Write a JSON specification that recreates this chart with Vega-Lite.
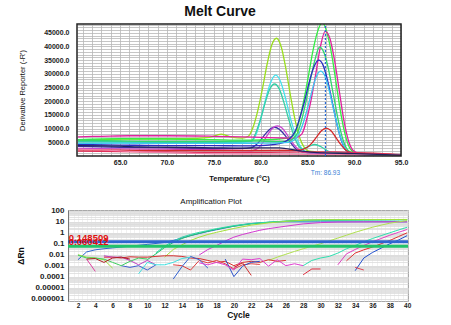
{
"$schema": "https://vega.github.io/schema/vega-lite/v6.json",
"padding": {"left": 16, "top": 4, "right": 0, "bottom": 0},
"background": "white",
"spacing": 15,
"align": "none",
"bounds": "full",
"resolve": {"scale": {"color": "independent"}},
"config": {"font": "Liberation Sans", "legend": {"disable": true}},
"vconcat": [
{
"title": {"text": "Melt Curve", "fontSize": 14, "fontWeight": "bold", "font": "Liberation Sans", "color": "#111", "offset": 2, "dx": -18},
"width": 340, "height": 132,
"view": {"stroke": null},
"data": {"values": [
{"s":"m1","x":60.5,"y":5500},{"s":"m1","x":63,"y":6000},{"s":"m1","x":66,"y":6200},{"s":"m1","x":69,"y":6300},{"s":"m1","x":72,"y":6300},{"s":"m1","x":74.5,"y":6800},{"s":"m1","x":75.8,"y":8000},{"s":"m1","x":77,"y":6800},{"s":"m1","x":78,"y":6500},{"s":"m1","x":78.7,"y":7200},{"s":"m1","x":79.2,"y":10500},{"s":"m1","x":79.7,"y":16500},{"s":"m1","x":80.2,"y":24500},{"s":"m1","x":80.7,"y":33500},{"s":"m1","x":81.2,"y":40500},{"s":"m1","x":81.7,"y":43000},{"s":"m1","x":82.2,"y":40000},{"s":"m1","x":82.7,"y":32000},{"s":"m1","x":83.2,"y":22000},{"s":"m1","x":83.7,"y":13000},{"s":"m1","x":84.2,"y":6500},{"s":"m1","x":84.7,"y":3000},{"s":"m1","x":85.2,"y":1800},{"s":"m1","x":86,"y":1500},{"s":"m1","x":88,"y":1200},{"s":"m1","x":90,"y":900},{"s":"m1","x":95,"y":300},
{"s":"m2","x":60.5,"y":4600},{"s":"m2","x":65,"y":4800},{"s":"m2","x":70,"y":4800},{"s":"m2","x":75,"y":4900},{"s":"m2","x":78,"y":5000},{"s":"m2","x":79,"y":5300},{"s":"m2","x":79.6,"y":8500},{"s":"m2","x":80.1,"y":14500},{"s":"m2","x":80.6,"y":21500},{"s":"m2","x":81.1,"y":27000},{"s":"m2","x":81.6,"y":29500},{"s":"m2","x":82.1,"y":27500},{"s":"m2","x":82.6,"y":22000},{"s":"m2","x":83.1,"y":15000},{"s":"m2","x":83.6,"y":9000},{"s":"m2","x":84.1,"y":4500},{"s":"m2","x":84.6,"y":2000},{"s":"m2","x":85.2,"y":1200},{"s":"m2","x":88,"y":1000},{"s":"m2","x":92,"y":600},{"s":"m2","x":95,"y":300},
{"s":"m3","x":60.5,"y":5300},{"s":"m3","x":65,"y":5200},{"s":"m3","x":70,"y":5000},{"s":"m3","x":75,"y":5100},{"s":"m3","x":78,"y":5200},{"s":"m3","x":79,"y":5500},{"s":"m3","x":79.5,"y":8500},{"s":"m3","x":80,"y":13500},{"s":"m3","x":80.5,"y":19500},{"s":"m3","x":81,"y":24500},{"s":"m3","x":81.5,"y":26300},{"s":"m3","x":82,"y":24500},{"s":"m3","x":82.5,"y":19500},{"s":"m3","x":83,"y":13500},{"s":"m3","x":83.5,"y":8000},{"s":"m3","x":84,"y":4000},{"s":"m3","x":84.5,"y":2600},{"s":"m3","x":85.2,"y":3600},{"s":"m3","x":85.8,"y":4200},{"s":"m3","x":86.5,"y":3300},{"s":"m3","x":87.2,"y":1800},{"s":"m3","x":88,"y":1000},{"s":"m3","x":92,"y":600},{"s":"m3","x":95,"y":300},
{"s":"m4","x":60.5,"y":3500},{"s":"m4","x":65,"y":3200},{"s":"m4","x":70,"y":3000},{"s":"m4","x":75,"y":2800},{"s":"m4","x":78,"y":2800},{"s":"m4","x":79,"y":3000},{"s":"m4","x":79.5,"y":4000},{"s":"m4","x":80,"y":5800},{"s":"m4","x":80.5,"y":8000},{"s":"m4","x":81,"y":9800},{"s":"m4","x":81.5,"y":10500},{"s":"m4","x":82,"y":9800},{"s":"m4","x":82.5,"y":8000},{"s":"m4","x":83,"y":5800},{"s":"m4","x":83.5,"y":3600},{"s":"m4","x":84,"y":2000},{"s":"m4","x":85,"y":1200},{"s":"m4","x":88,"y":800},{"s":"m4","x":92,"y":500},{"s":"m4","x":95,"y":200},
{"s":"m5","x":60.5,"y":2800},{"s":"m5","x":65,"y":2600},{"s":"m5","x":70,"y":2500},{"s":"m5","x":75,"y":2300},{"s":"m5","x":78,"y":2000},{"s":"m5","x":79,"y":1900},{"s":"m5","x":79.8,"y":3000},{"s":"m5","x":80.3,"y":5200},{"s":"m5","x":80.8,"y":8000},{"s":"m5","x":81.3,"y":10200},{"s":"m5","x":81.8,"y":11000},{"s":"m5","x":82.3,"y":10200},{"s":"m5","x":82.8,"y":8000},{"s":"m5","x":83.3,"y":5300},{"s":"m5","x":83.8,"y":3200},{"s":"m5","x":84.3,"y":1800},{"s":"m5","x":85,"y":1200},{"s":"m5","x":88,"y":800},{"s":"m5","x":92,"y":500},{"s":"m5","x":95,"y":200},
{"s":"m6","x":60.5,"y":6000},{"s":"m6","x":65,"y":6300},{"s":"m6","x":70,"y":6200},{"s":"m6","x":75,"y":6000},{"s":"m6","x":78,"y":5800},{"s":"m6","x":80,"y":5900},{"s":"m6","x":82,"y":6200},{"s":"m6","x":83,"y":6600},{"s":"m6","x":83.6,"y":8000},{"s":"m6","x":84.1,"y":12500},{"s":"m6","x":84.6,"y":20000},{"s":"m6","x":85.1,"y":29000},{"s":"m6","x":85.6,"y":38500},{"s":"m6","x":86.1,"y":45500},{"s":"m6","x":86.6,"y":48800},{"s":"m6","x":87.1,"y":45000},{"s":"m6","x":87.6,"y":37000},{"s":"m6","x":88.1,"y":26000},{"s":"m6","x":88.6,"y":15000},{"s":"m6","x":89.1,"y":7000},{"s":"m6","x":89.6,"y":2500},{"s":"m6","x":90.2,"y":1000},{"s":"m6","x":92,"y":700},{"s":"m6","x":95,"y":200},
{"s":"m7","x":60.5,"y":7000},{"s":"m7","x":63,"y":7200},{"s":"m7","x":66,"y":7400},{"s":"m7","x":70,"y":7400},{"s":"m7","x":75,"y":7200},{"s":"m7","x":78,"y":7000},{"s":"m7","x":80,"y":6800},{"s":"m7","x":82,"y":6600},{"s":"m7","x":83.5,"y":6500},{"s":"m7","x":84.4,"y":8000},{"s":"m7","x":84.9,"y":13000},{"s":"m7","x":85.4,"y":20500},{"s":"m7","x":85.9,"y":30000},{"s":"m7","x":86.4,"y":40000},{"s":"m7","x":86.9,"y":45500},{"s":"m7","x":87.4,"y":43000},{"s":"m7","x":87.9,"y":35000},{"s":"m7","x":88.4,"y":24000},{"s":"m7","x":88.9,"y":13000},{"s":"m7","x":89.4,"y":5500},{"s":"m7","x":89.9,"y":2000},{"s":"m7","x":90.5,"y":1000},{"s":"m7","x":95,"y":300},
{"s":"m8","x":60.5,"y":5800},{"s":"m8","x":65,"y":5500},{"s":"m8","x":70,"y":5300},{"s":"m8","x":75,"y":5300},{"s":"m8","x":78,"y":5400},{"s":"m8","x":80,"y":5400},{"s":"m8","x":82,"y":5200},{"s":"m8","x":83,"y":5500},{"s":"m8","x":83.8,"y":7500},{"s":"m8","x":84.3,"y":12000},{"s":"m8","x":84.8,"y":19000},{"s":"m8","x":85.3,"y":27500},{"s":"m8","x":85.8,"y":35000},{"s":"m8","x":86.3,"y":39800},{"s":"m8","x":86.8,"y":37500},{"s":"m8","x":87.3,"y":31000},{"s":"m8","x":87.8,"y":22000},{"s":"m8","x":88.3,"y":13000},{"s":"m8","x":88.8,"y":6000},{"s":"m8","x":89.3,"y":2200},{"s":"m8","x":90,"y":900},{"s":"m8","x":95,"y":200},
{"s":"m9","x":60.5,"y":4200},{"s":"m9","x":65,"y":4000},{"s":"m9","x":70,"y":3800},{"s":"m9","x":75,"y":3800},{"s":"m9","x":78,"y":3700},{"s":"m9","x":80,"y":3800},{"s":"m9","x":82,"y":4500},{"s":"m9","x":83,"y":6000},{"s":"m9","x":83.7,"y":9000},{"s":"m9","x":84.2,"y":14000},{"s":"m9","x":84.7,"y":20000},{"s":"m9","x":85.2,"y":27000},{"s":"m9","x":85.7,"y":32500},{"s":"m9","x":86.2,"y":35000},{"s":"m9","x":86.7,"y":33000},{"s":"m9","x":87.2,"y":27000},{"s":"m9","x":87.7,"y":19000},{"s":"m9","x":88.2,"y":11000},{"s":"m9","x":88.7,"y":5000},{"s":"m9","x":89.2,"y":1800},{"s":"m9","x":90,"y":800},{"s":"m9","x":95,"y":200},
{"s":"m10","x":60.5,"y":4600},{"s":"m10","x":65,"y":4700},{"s":"m10","x":70,"y":4600},{"s":"m10","x":75,"y":4600},{"s":"m10","x":78,"y":4600},{"s":"m10","x":80,"y":4700},{"s":"m10","x":82,"y":4800},{"s":"m10","x":83,"y":5000},{"s":"m10","x":83.9,"y":7000},{"s":"m10","x":84.4,"y":10500},{"s":"m10","x":84.9,"y":16000},{"s":"m10","x":85.4,"y":22500},{"s":"m10","x":85.9,"y":28500},{"s":"m10","x":86.4,"y":31000},{"s":"m10","x":86.9,"y":29000},{"s":"m10","x":87.4,"y":23000},{"s":"m10","x":87.9,"y":15500},{"s":"m10","x":88.4,"y":8500},{"s":"m10","x":88.9,"y":3500},{"s":"m10","x":89.5,"y":1200},{"s":"m10","x":90.2,"y":800},{"s":"m10","x":95,"y":200},
{"s":"m11","x":60.5,"y":2200},{"s":"m11","x":65,"y":2100},{"s":"m11","x":70,"y":2000},{"s":"m11","x":75,"y":2000},{"s":"m11","x":80,"y":2000},{"s":"m11","x":84,"y":2100},{"s":"m11","x":85,"y":3200},{"s":"m11","x":85.5,"y":4800},{"s":"m11","x":86,"y":7000},{"s":"m11","x":86.5,"y":9200},{"s":"m11","x":87,"y":10200},{"s":"m11","x":87.5,"y":9300},{"s":"m11","x":88,"y":7000},{"s":"m11","x":88.5,"y":4500},{"s":"m11","x":89,"y":2500},{"s":"m11","x":89.5,"y":1400},{"s":"m11","x":90.5,"y":1100},{"s":"m11","x":93,"y":900},{"s":"m11","x":95,"y":400},
{"s":"m12","x":60.5,"y":1800},{"s":"m12","x":65,"y":1600},{"s":"m12","x":70,"y":1500},{"s":"m12","x":75,"y":1300},{"s":"m12","x":80,"y":1300},{"s":"m12","x":85,"y":1500},{"s":"m12","x":88,"y":1500},{"s":"m12","x":90,"y":1200},{"s":"m12","x":95,"y":500},
{"s":"m13","x":60.5,"y":2500},{"s":"m13","x":63,"y":2200},{"s":"m13","x":66,"y":1700},{"s":"m13","x":70,"y":1200},{"s":"m13","x":75,"y":800},{"s":"m13","x":80,"y":700},{"s":"m13","x":85,"y":600},{"s":"m13","x":90,"y":500},{"s":"m13","x":95,"y":300},
{"s":"m14","x":60.5,"y":3800},{"s":"m14","x":65,"y":3600},{"s":"m14","x":67,"y":3300},{"s":"m14","x":70,"y":3200},{"s":"m14","x":75,"y":3000},{"s":"m14","x":78,"y":2900},{"s":"m14","x":80,"y":3000},{"s":"m14","x":82,"y":3000},{"s":"m14","x":84,"y":2000},{"s":"m14","x":86,"y":1200},{"s":"m14","x":90,"y":900},{"s":"m14","x":95,"y":300}
]},
"layer": [
{"mark": {"type": "line", "interpolate": "monotone", "strokeWidth": 1.3, "clip": true},
 "encoding": {
  "x": {"field": "x", "type": "quantitative", "scale": {"domain": [60.4, 95], "range": [9, 333], "nice": false, "zero": false},
        "axis": {"title": "Temperature (°C)", "tickCount": 500, "values": [61,62,63,64,65,66,67,68,69,70,71,72,73,74,75,76,77,78,79,80,81,82,83,84,85,86,87,88,89,90,91,92,93,94,95],
                 "labelExpr": "datum.value % 5 == 0 ? format(datum.value, '.1f') : ''", "labelFontSize": 7, "labelFontWeight": "bold", "labelColor": "#222", "labelPadding": 2, "ticks": false, "domain": false,
                 "gridColor": "#b8b8b8", "gridWidth": 0.8, "titleFontSize": 7.5, "titleFontWeight": "bold", "titleColor": "#111", "titlePadding": 9, "labelFlush": false, "labelOverlap": false}},
  "y": {"field": "y", "type": "quantitative", "scale": {"domain": [0, 48200], "nice": false},
        "axis": {"title": "Derivative Reporter (-R')", "offset": -9, "tickCount": 500, "values": [1000,2000,3000,4000,5000,6000,7000,8000,9000,10000,11000,12000,13000,14000,15000,16000,17000,18000,19000,20000,21000,22000,23000,24000,25000,26000,27000,28000,29000,30000,31000,32000,33000,34000,35000,36000,37000,38000,39000,40000,41000,42000,43000,44000,45000,46000,47000,48000],
                 "labelExpr": "datum.value % 5000 == 0 ? format(datum.value, '.1f') : ''", "labelFontSize": 7, "labelFontWeight": "bold", "labelColor": "#222", "labelPadding": 8, "ticks": false, "domain": false,
                 "gridColor": "#b8b8b8", "gridWidth": 0.8, "titleFontSize": 7.5, "titleFontWeight": "normal", "titleColor": "#111", "titlePadding": 17, "labelOverlap": false, "labelFlush": false}},
  "color": {"field": "s", "type": "nominal", "legend": null,
            "scale": {"domain": ["m1","m2","m3","m4","m5","m6","m7","m8","m9","m10","m11","m12","m13","m14"],
                      "range": ["#9ade1f","#45e3ef","#35cfa5","#3b30a8","#c845d0","#33ee44","#e0239f","#2fd86e","#2b2bc0","#3cc8f0","#d42a2a","#e0305a","#f080a8","#23235e"]}}
 }},
{"data": {"values": [{}]},
 "mark": {"type": "rect", "fillOpacity": 0, "stroke": "#222", "strokeWidth": 1.5},
 "encoding": {"x": {"datum": 60.4}, "x2": {"datum": 95}, "y": {"datum": 0}, "y2": {"datum": 48200}}},
{"data": {"values": [{}]},
 "mark": {"type": "rule", "color": "#2468d8", "strokeDash": [2, 2], "strokeWidth": 1.2},
 "encoding": {"x": {"datum": 86.93}, "y": {"datum": 0}, "y2": {"datum": 48200}}},
{"data": {"values": [{}]},
 "mark": {"type": "text", "text": "Tm: 86.93", "color": "#3a7fd5", "fontSize": 6.5, "align": "center", "baseline": "middle", "clip": false},
 "encoding": {"x": {"datum": 86.93}, "y": {"datum": -6200}}}
]
},
{
"title": {"text": "Amplification Plot", "fontSize": 8, "fontWeight": "normal", "font": "Liberation Sans", "color": "#111", "offset": 1, "dx": -27},
"width": 340, "height": 91,
"view": {"stroke": "#a8a8a8", "strokeWidth": 1},
"layer": [
{"data": {"values": [
{"s":"a1","x":2,"y":0.0035},{"s":"a1","x":3,"y":0.018},{"s":"a1","x":4,"y":0.028},{"s":"a1","x":5,"y":0.035},{"s":"a1","x":6,"y":0.042},{"s":"a1","x":8,"y":0.06},{"s":"a1","x":10,"y":0.087},{"s":"a1","x":12,"y":0.13},{"s":"a1","x":13,"y":0.2},{"s":"a1","x":14,"y":0.33},{"s":"a1","x":15,"y":0.55},{"s":"a1","x":16,"y":0.85},{"s":"a1","x":17,"y":1.3},{"s":"a1","x":18,"y":1.9},{"s":"a1","x":19,"y":2.8},{"s":"a1","x":20,"y":4},{"s":"a1","x":21,"y":5.5},{"s":"a1","x":22,"y":7},{"s":"a1","x":24,"y":9},{"s":"a1","x":26,"y":10},{"s":"a1","x":30,"y":10},{"s":"a1","x":35,"y":10},{"s":"a1","x":40,"y":10},
{"s":"a2","x":10,"y":0.0035},{"s":"a2","x":11,"y":0.012},{"s":"a2","x":12,"y":0.045},{"s":"a2","x":13,"y":0.13},{"s":"a2","x":14,"y":0.3},{"s":"a2","x":15,"y":0.55},{"s":"a2","x":16,"y":0.9},{"s":"a2","x":17,"y":1.4},{"s":"a2","x":18,"y":2.1},{"s":"a2","x":20,"y":4},{"s":"a2","x":22,"y":6.5},{"s":"a2","x":24,"y":9},{"s":"a2","x":26,"y":12},{"s":"a2","x":28,"y":14},{"s":"a2","x":30,"y":15},{"s":"a2","x":35,"y":15.5},{"s":"a2","x":40,"y":16},
{"s":"a3","x":11,"y":0.015},{"s":"a3","x":12,"y":0.06},{"s":"a3","x":13,"y":0.17},{"s":"a3","x":14,"y":0.4},{"s":"a3","x":15,"y":0.7},{"s":"a3","x":16,"y":1.1},{"s":"a3","x":17,"y":1.6},{"s":"a3","x":18,"y":2.4},{"s":"a3","x":20,"y":4.5},{"s":"a3","x":22,"y":7},{"s":"a3","x":24,"y":9.5},{"s":"a3","x":26,"y":11},{"s":"a3","x":28,"y":12},{"s":"a3","x":30,"y":13},{"s":"a3","x":35,"y":14},{"s":"a3","x":40,"y":15},
{"s":"a4","x":12,"y":0.006},{"s":"a4","x":13,"y":0.03},{"s":"a4","x":14,"y":0.08},{"s":"a4","x":15,"y":0.2},{"s":"a4","x":16,"y":0.4},{"s":"a4","x":17,"y":0.7},{"s":"a4","x":18,"y":1.1},{"s":"a4","x":20,"y":2.5},{"s":"a4","x":22,"y":5},{"s":"a4","x":24,"y":8},{"s":"a4","x":26,"y":11},{"s":"a4","x":28,"y":14},{"s":"a4","x":30,"y":15.5},{"s":"a4","x":35,"y":16},{"s":"a4","x":40,"y":16.5},
{"s":"a5","x":16,"y":0.0095},{"s":"a5","x":17,"y":0.03},{"s":"a5","x":18,"y":0.07},{"s":"a5","x":19,"y":0.18},{"s":"a5","x":20,"y":0.4},{"s":"a5","x":21,"y":0.7},{"s":"a5","x":22,"y":1.1},{"s":"a5","x":23,"y":1.7},{"s":"a5","x":24,"y":2.4},{"s":"a5","x":26,"y":4},{"s":"a5","x":28,"y":6.5},{"s":"a5","x":30,"y":8.5},{"s":"a5","x":32,"y":9.5},{"s":"a5","x":36,"y":10},{"s":"a5","x":40,"y":10},
{"s":"a6","x":24,"y":0.003},{"s":"a6","x":25,"y":0.006},{"s":"a6","x":26,"y":0.011},{"s":"a6","x":27,"y":0.02},{"s":"a6","x":28,"y":0.035},{"s":"a6","x":29,"y":0.06},{"s":"a6","x":30,"y":0.1},{"s":"a6","x":31,"y":0.18},{"s":"a6","x":32,"y":0.33},{"s":"a6","x":33,"y":0.6},{"s":"a6","x":34,"y":1.1},{"s":"a6","x":35,"y":1.9},{"s":"a6","x":36,"y":3.2},{"s":"a6","x":37,"y":5},{"s":"a6","x":38,"y":7.5},{"s":"a6","x":39,"y":10},{"s":"a6","x":40,"y":13},
{"s":"a7","x":28,"y":0.001},{"s":"a7","x":29,"y":0.003},{"s":"a7","x":30,"y":0.005},{"s":"a7","x":31,"y":0.007},{"s":"a7","x":32,"y":0.014},{"s":"a7","x":33,"y":0.035},{"s":"a7","x":34,"y":0.07},{"s":"a7","x":35,"y":0.15},{"s":"a7","x":36,"y":0.3},{"s":"a7","x":37,"y":0.55},{"s":"a7","x":38,"y":1},{"s":"a7","x":39,"y":1.8},{"s":"a7","x":40,"y":3.2},
{"s":"a8","x":32,"y":0.0012},{"s":"a8","x":33,"y":0.012},{"s":"a8","x":34,"y":0.03},{"s":"a8","x":35,"y":0.07},{"s":"a8","x":36,"y":0.15},{"s":"a8","x":37,"y":0.3},{"s":"a8","x":38,"y":0.6},{"s":"a8","x":39,"y":1.1},{"s":"a8","x":40,"y":2},
{"s":"a9","x":33,"y":0.0028},{"s":"a9","x":34,"y":0.014},{"s":"a9","x":35,"y":0.028},{"s":"a9","x":36,"y":0.05},{"s":"a9","x":37,"y":0.1},{"s":"a9","x":38,"y":0.2},{"s":"a9","x":39,"y":0.45},{"s":"a9","x":40,"y":1},
{"s":"a10","x":34,"y":0.00035},{"s":"a10","x":35,"y":0.005},{"s":"a10","x":36,"y":0.016},{"s":"a10","x":37,"y":0.04},{"s":"a10","x":38,"y":0.1},{"s":"a10","x":39,"y":0.22},{"s":"a10","x":40,"y":0.55},
{"s":"a11","x":5,"y":0.006},{"s":"a11","x":6,"y":0.006},{"s":"a11","x":7,"y":0.005},{"s":"a11","x":8,"y":0.0065},{"s":"a11","x":9,"y":0.006},{"s":"a11","x":10,"y":0.006},{"s":"a11","x":11,"y":0.007},{"s":"a11","x":12,"y":0.008},{"s":"a11","x":13,"y":0.008},{"s":"a11","x":14,"y":0.007},{"s":"a11","x":15,"y":0.005},{"s":"a11","x":16,"y":0.0045},{"s":"a11","x":17,"y":0.003},{"s":"a11","x":18,"y":0.002},{"s":"a11","x":19,"y":0.0025},{"s":"a11","x":20,"y":0.001},{"s":"a11","x":21,"y":0.002},{"s":"a11","x":22,"y":0.0025},{"s":"a11","x":23,"y":0.002},{"s":"a11","x":24,"y":0.0035},{"s":"a11","x":25,"y":0.0025},{"s":"a11","x":26,"y":0.003},
{"s":"a12","x":13,"y":0.0012},{"s":"a12","x":14,"y":0.001},{"s":"a12","x":15,"y":0.0004},{"s":"a12","x":16,"y":0.003},{"s":"a12","x":17,"y":0.0018},{"s":"a12","x":18,"y":0.003},{"s":"a12","x":19,"y":0.0015},{"s":"a12","x":20,"y":0.0005},{"s":"a12","x":21,"y":0.0012},{"s":"a12","x":22,"y":0.0015},{"s":"a12","x":23,"y":0.0013},
{"s":"a13","x":13,"y":0.00006},{"s":"a13","x":14,"y":0.0008},{"s":"a13","x":15,"y":0.007},{"s":"a13","x":16,"y":0.0035},{"s":"a13","x":17,"y":0.0006},
{"s":"a14","x":19,"y":0.004},{"s":"a14","x":20,"y":0.0001},{"s":"a14","x":21,"y":0.0009},{"s":"a14","x":22,"y":0.002},{"s":"a14","x":23,"y":0.0025},
{"s":"a15","x":16,"y":0.0018},{"s":"a15","x":17,"y":0.0012},{"s":"a15","x":18,"y":0.002},{"s":"a15","x":19,"y":0.0012},{"s":"a15","x":20,"y":0.0004},{"s":"a15","x":21,"y":0.004},{"s":"a15","x":22,"y":0.0035},{"s":"a15","x":23,"y":0.0045},{"s":"a15","x":24,"y":0.0009},{"s":"a15","x":25,"y":0.0035},{"s":"a15","x":26,"y":0.001},{"s":"a15","x":27,"y":0.0015},{"s":"a15","x":28,"y":0.001},
{"s":"a16","x":20,"y":0.0007},{"s":"a16","x":21,"y":0.0018},{"s":"a16","x":22,"y":0.00013},
{"s":"a17","x":28,"y":0.00015},{"s":"a17","x":29,"y":0.0005},{"s":"a17","x":30,"y":0.0005},
{"s":"a18","x":34,"y":0.0007},{"s":"a18","x":35,"y":0.0004},
{"s":"a19","x":2,"y":0.01},{"s":"a19","x":3,"y":0.006},{"s":"a19","x":4,"y":0.005},{"s":"a19","x":5,"y":0.0035},{"s":"a19","x":6,"y":0.0006},
{"s":"a20","x":3,"y":0.004},{"s":"a20","x":4,"y":0.0003},
{"s":"a21","x":5,"y":0.008},{"s":"a21","x":6,"y":0.006},{"s":"a21","x":7,"y":0.006},{"s":"a21","x":8,"y":0.003},{"s":"a21","x":9,"y":0.0012},{"s":"a21","x":10,"y":0.003},{"s":"a21","x":11,"y":0.0012},
{"s":"a22","x":7,"y":0.001},{"s":"a22","x":8,"y":0.0007},{"s":"a22","x":9,"y":0.001},{"s":"a22","x":10,"y":0.0004},{"s":"a22","x":11,"y":0.0012},
{"s":"a23","x":9,"y":0.00018},{"s":"a23","x":10,"y":0.002},{"s":"a23","x":11,"y":0.0012},{"s":"a23","x":12,"y":0.0012},{"s":"a23","x":13,"y":0.002},{"s":"a23","x":14,"y":0.0045},{"s":"a23","x":15,"y":0.006},
{"s":"a24","x":2,"y":0.009},{"s":"a24","x":3,"y":0.005},{"s":"a24","x":4,"y":0.005},{"s":"a24","x":5,"y":0.004},{"s":"a24","x":6,"y":0.002},{"s":"a24","x":7,"y":0.001},{"s":"a24","x":8,"y":0.0025},{"s":"a24","x":9,"y":0.005},{"s":"a24","x":10,"y":0.004},
{"s":"a25","x":3,"y":0.004},{"s":"a25","x":4,"y":0.0045},{"s":"a25","x":5,"y":0.002},{"s":"a25","x":6,"y":0.005},{"s":"a25","x":7,"y":0.006},{"s":"a25","x":8,"y":0.004}
]},
 "mark": {"type": "line", "strokeWidth": 1, "clip": true},
 "encoding": {
  "x": {"field": "x", "type": "quantitative", "scale": {"domain": [0.85, 40.1], "nice": false, "zero": false},
        "axis": {"title": "Cycle", "tickCount": 500, "values": [1,1.5,2,2.5,3,3.5,4,4.5,5,5.5,6,6.5,7,7.5,8,8.5,9,9.5,10,10.5,11,11.5,12,12.5,13,13.5,14,14.5,15,15.5,16,16.5,17,17.5,18,18.5,19,19.5,20,20.5,21,21.5,22,22.5,23,23.5,24,24.5,25,25.5,26,26.5,27,27.5,28,28.5,29,29.5,30,30.5,31,31.5,32,32.5,33,33.5,34,34.5,35,35.5,36,36.5,37,37.5,38,38.5,39,39.5,40],
                 "labelExpr": "datum.value % 2 == 0 ? format(datum.value, '.0f') : ''", "labelFontSize": 6.5, "labelFontWeight": "bold", "labelColor": "#222", "labelPadding": 1, "ticks": false, "domain": false,
                 "gridColor": "#dcdcdc", "gridWidth": 0.8, "gridDash": [1, 1], "titleFontSize": 8.5, "titleFontWeight": "bold", "titleColor": "#111", "titlePadding": 2, "labelFlush": false, "labelOverlap": false}},
  "y": {"field": "y", "type": "quantitative", "scale": {"type": "log", "domain": [0.0000006, 120], "nice": false},
        "axis": {"title": "ΔRn", "tickCount": 500, "values": [0.000001,0.000002,0.000003,0.000004,0.000005,0.000006,0.000007,0.000008,0.000009,0.00001,0.00002,0.00003,0.00004,0.00005,0.00006,0.00007,0.00008,0.00009,0.0001,0.0002,0.0003,0.0004,0.0005,0.0006,0.0007,0.0008,0.0009,0.001,0.002,0.003,0.004,0.005,0.006,0.007,0.008,0.009,0.01,0.02,0.03,0.04,0.05,0.06,0.07,0.08,0.09,0.1,0.2,0.3,0.4,0.5,0.6,0.7,0.8,0.9,1,2,3,4,5,6,7,8,9,10,20,30,40,50,60,70,80,90,100],
                 "labelExpr": "abs(log(datum.value)/LN10 - round(log(datum.value)/LN10)) < 0.001 ? format(datum.value, '~f') : ''", "labelFontSize": 8, "labelFontWeight": "bold", "labelColor": "#222", "labelPadding": 4, "ticks": false,
                 "domain": true, "domainColor": "#777", "gridColor": "#dcdcdc", "gridWidth": 0.8, "titleFontSize": 8.5, "titleFontWeight": "bold", "titleColor": "#111", "titlePadding": 5, "labelOverlap": false, "labelFlush": false}},
  "color": {"field": "s", "type": "nominal", "legend": null,
            "scale": {"domain": ["a1","a2","a3","a4","a5","a6","a7","a8","a9","a10","a11","a12","a13","a14","a15","a16","a17","a18","a19","a20","a21","a22","a23","a24","a25"],
                      "range": ["#2f66d0","#22c46a","#2ed8a8","#a6e03c","#d33ad0","#b0e050","#2ee0b0","#e040c0","#e03030","#2050d0","#d83030","#e04040","#3060d0","#2a50c8","#e040d0","#d03030","#e03040","#e04050","#a0e040","#e040a0","#c040c0","#4060d0","#40e0e0","#40d060","#b02020"]}}
 }},
{"data": {"values": [{"t":"blue","v":0.148509},{"t":"yg","v":0.060412}]},
 "mark": {"type": "rule", "strokeWidth": 3},
 "encoding": {"y": {"field": "v", "type": "quantitative"},
              "color": {"field": "t", "type": "nominal", "legend": null, "scale": {"domain": ["blue","yg"], "range": ["#58a8f5","#cde800"]}}}},
{"data": {"values": [{"t":"blue","v":0.148509},{"t":"yg","v":0.060412}]},
 "mark": {"type": "text", "color": "#e01010", "fontSize": 9.5, "fontWeight": "bold", "align": "left", "baseline": "bottom", "dy": 1},
 "encoding": {"x": {"datum": 0.95}, "y": {"field": "v", "type": "quantitative"},
              "text": {"field": "v", "type": "quantitative", "format": ".6f"}}}
]
}
]
}
